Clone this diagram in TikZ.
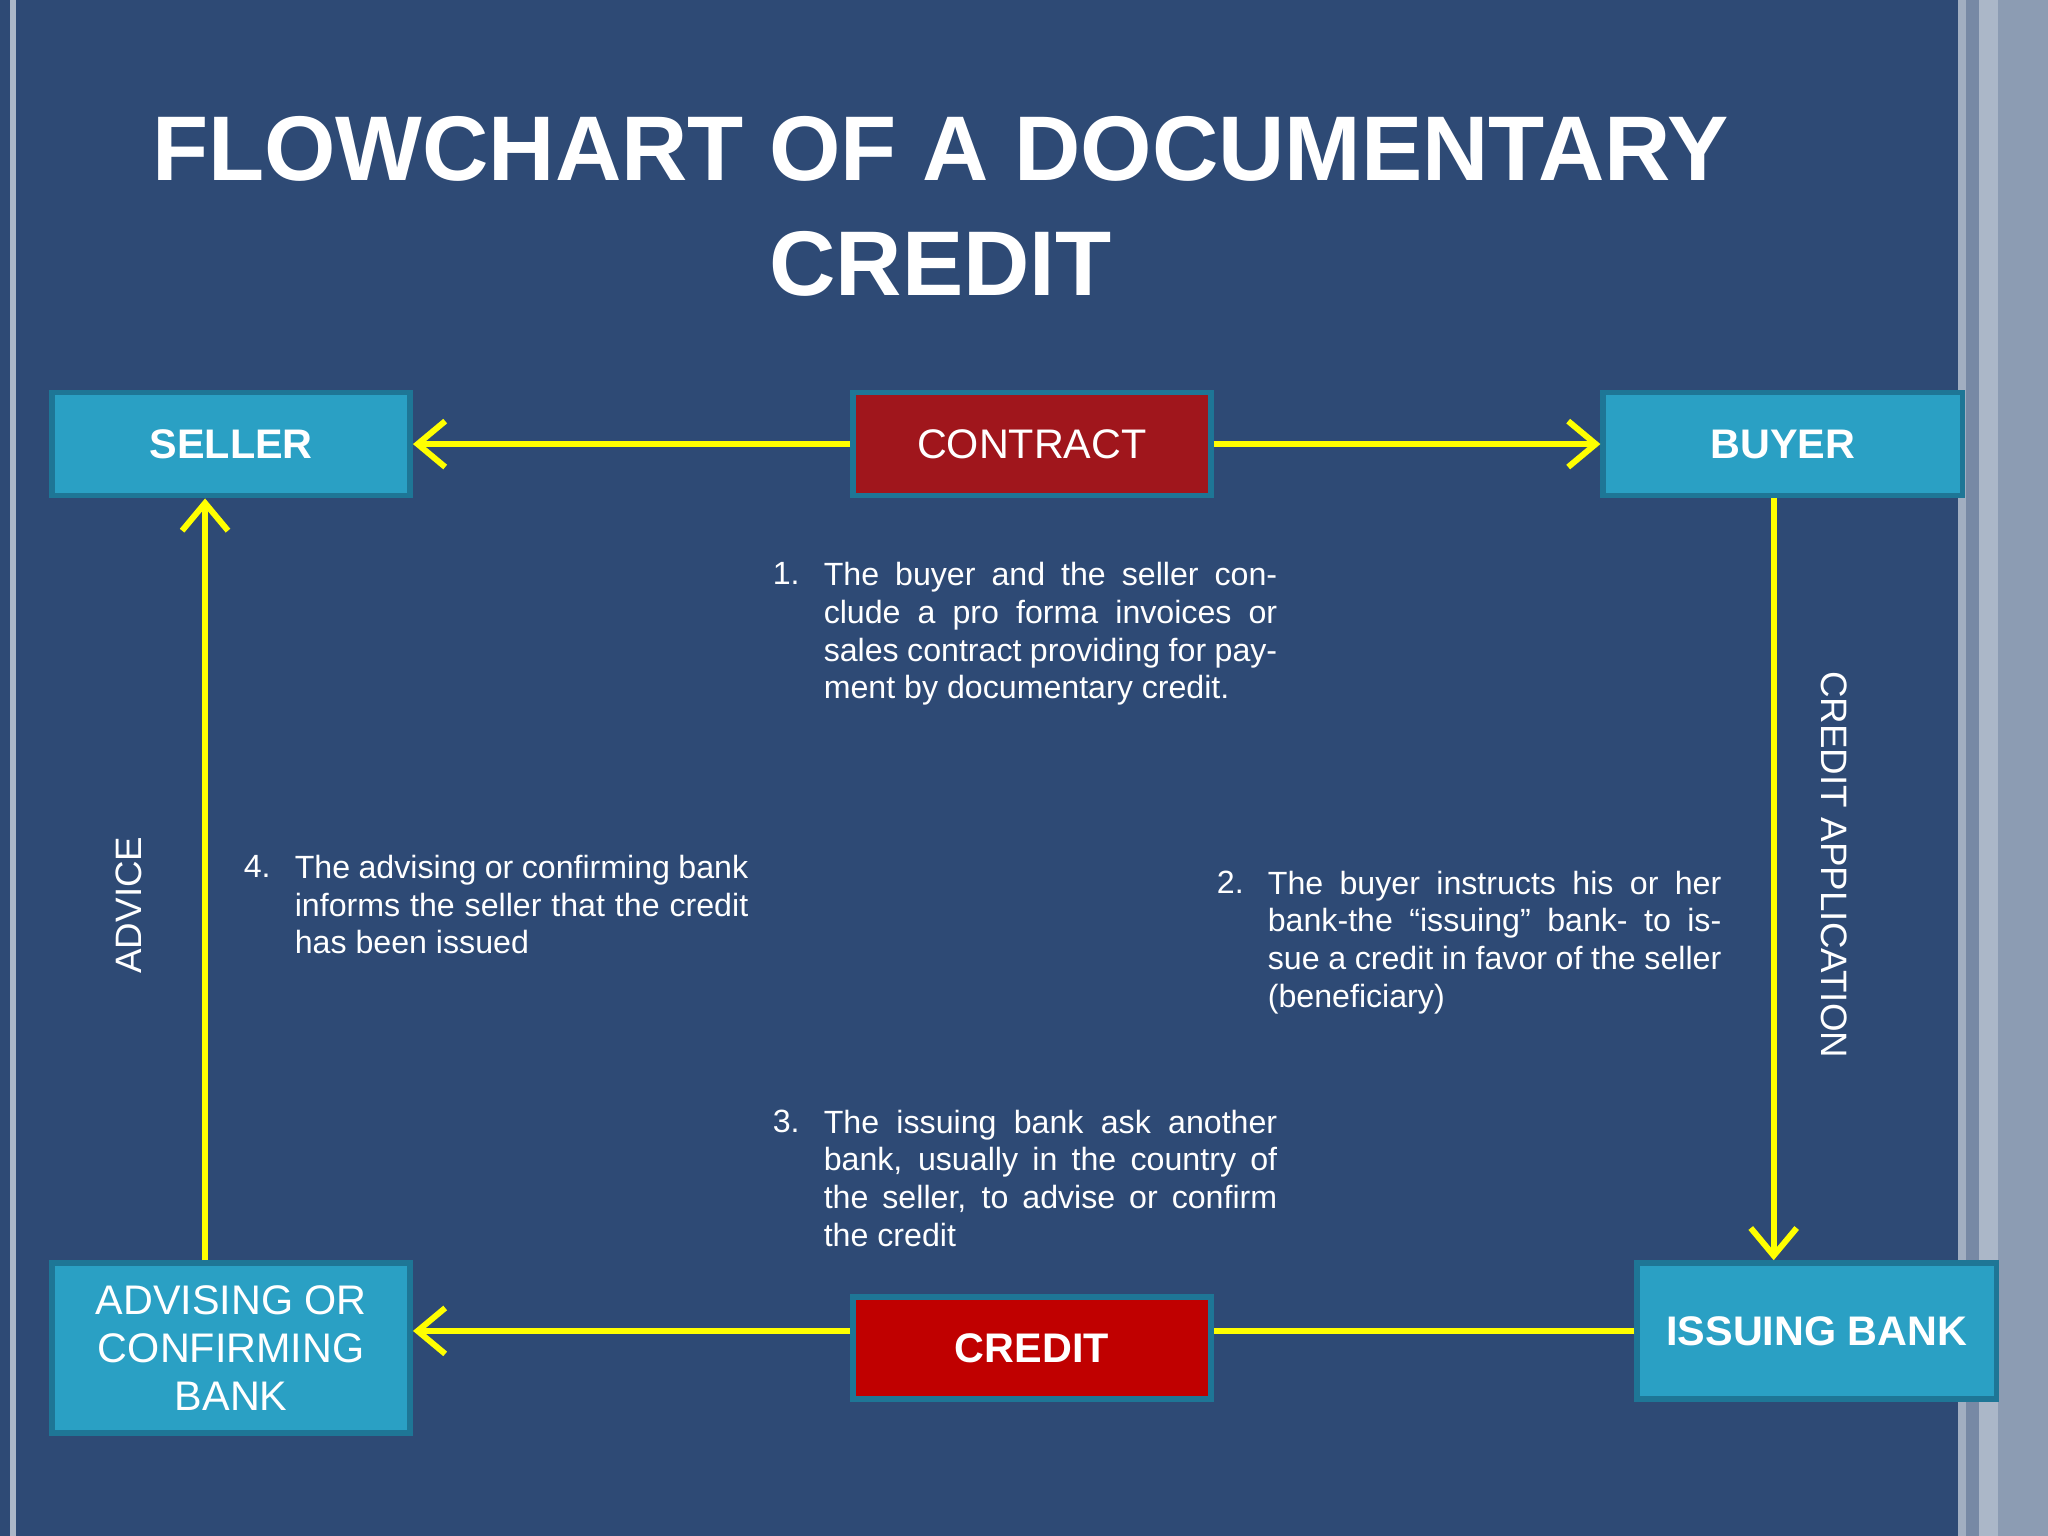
\documentclass[tikz,border=0pt]{standalone}
\usepackage{fontspec}
\setmainfont{Liberation Sans}
\usetikzlibrary{arrows.meta}
\definecolor{bg}{RGB}{46,74,117}
\definecolor{teal}{RGB}{42,160,196}
\definecolor{tealb}{RGB}{30,118,150}
\definecolor{darkred}{RGB}{160,22,28}
\definecolor{brightred}{RGB}{192,0,0}
\definecolor{yel}{RGB}{255,255,0}
\begin{document}
\begin{tikzpicture}[x=0.01cm,y=-0.01cm,
  box/.style={draw=tealb,line width=1.2pt,fill=teal,text=white,font=\fontsize{9}{11}\selectfont,align=center,inner sep=0pt},
  arr/.style={yel,line width=1.3pt,-{Straight Barb[length=6pt,width=10pt,line width=1.3pt]}},
  ln/.style={yel,line width=1.3pt},
  num/.style={anchor=north west,text=white,font=\fontsize{7}{8.2}\selectfont,inner sep=0pt},
  para/.style={anchor=north west,text=white,font=\fontsize{7}{8.2}\selectfont,inner sep=0pt,text width=3.47cm,align=justify}]
\fill[bg] (0,0) rectangle (1568,1176);
\useasboundingbox (0,0) rectangle (1568,1176);
\fill[white!60!bg] (8,0) rectangle (12,1176);
\fill[white!55!bg] (1499,0) rectangle (1505,1176);
\fill[white!35!bg] (1505,0) rectangle (1515,1176);
\fill[white!60!bg] (1515,0) rectangle (1530,1176);
\fill[white!45!bg] (1530,0) rectangle (1568,1176);
\node[text=white,font=\fontsize{20}{25}\selectfont\bfseries,align=center] (title) at (720,158) {FLOWCHART OF A DOCUMENTARY\\CREDIT};
\node[box,minimum width=2.74cm,minimum height=0.79cm,font=\fontsize{9}{11}\selectfont\bfseries] (seller) at (177,340) {SELLER};
\node[box,fill=darkred,minimum width=2.74cm,minimum height=0.79cm] (contract) at (790,340) {CONTRACT};
\node[box,minimum width=2.75cm,minimum height=0.79cm,font=\fontsize{9}{11}\selectfont\bfseries] (buyer) at (1365,340) {BUYER};
\node[box,minimum width=2.74cm,minimum height=1.3cm,font=\fontsize{9}{10.5}\selectfont] (adv) at (177,1032) {ADVISING OR\\CONFIRMING\\BANK};
\node[box,fill=brightred,minimum width=2.74cm,minimum height=0.78cm,font=\fontsize{9}{11}\selectfont\bfseries] (credit) at (790,1032) {CREDIT};
\node[box,minimum width=2.75cm,minimum height=1.04cm,font=\fontsize{9}{11}\selectfont\bfseries] (issuing) at (1391,1019) {ISSUING BANK};
\draw[arr] (contract.west) -- (seller.east);
\draw[arr] (contract.east) -- (buyer.east -| buyer.west);
\draw[arr] (buyer.south -| 1358,0) -- (issuing.north -| 1358,0);
\draw[ln] (issuing.west) -- (issuing.west -| credit.east);
\draw[arr] (credit.west |- 0,1019) -- (adv.east |- 0,1019);
\draw[arr] (adv.north -| 157,0) -- (seller.south -| 157,0);
\node[text=white,rotate=90,font=\fontsize{8}{10}\selectfont] (advice) at (99,693) {ADVICE};
\node[text=white,rotate=-90,font=\fontsize{8}{10}\selectfont] (capp) at (1404,662) {CREDIT APPLICATION};
\node[num] (n1) at (591,430) {1.};
\node[para] (p1) at (630,430) {The buyer and the seller conclude a pro forma invoices or sales contract providing for payment by documentary credit.};
\node[num] (n2) at (931,666) {2.};
\node[para] (p2) at (970,666) {The buyer instructs his or her bank-the “issuing” bank- to issue a credit in favor of the seller (beneficiary)};
\node[num] (n3) at (591,849) {3.};
\node[para] (p3) at (630,849) {The issuing bank ask another bank, usually in the country of the seller, to advise or confirm the credit};
\node[num] (n4) at (186,654) {4.};
\node[para] (p4) at (225,654) {The advising or confirming bank informs the seller that the credit has been issued};
\end{tikzpicture}
\end{document}
